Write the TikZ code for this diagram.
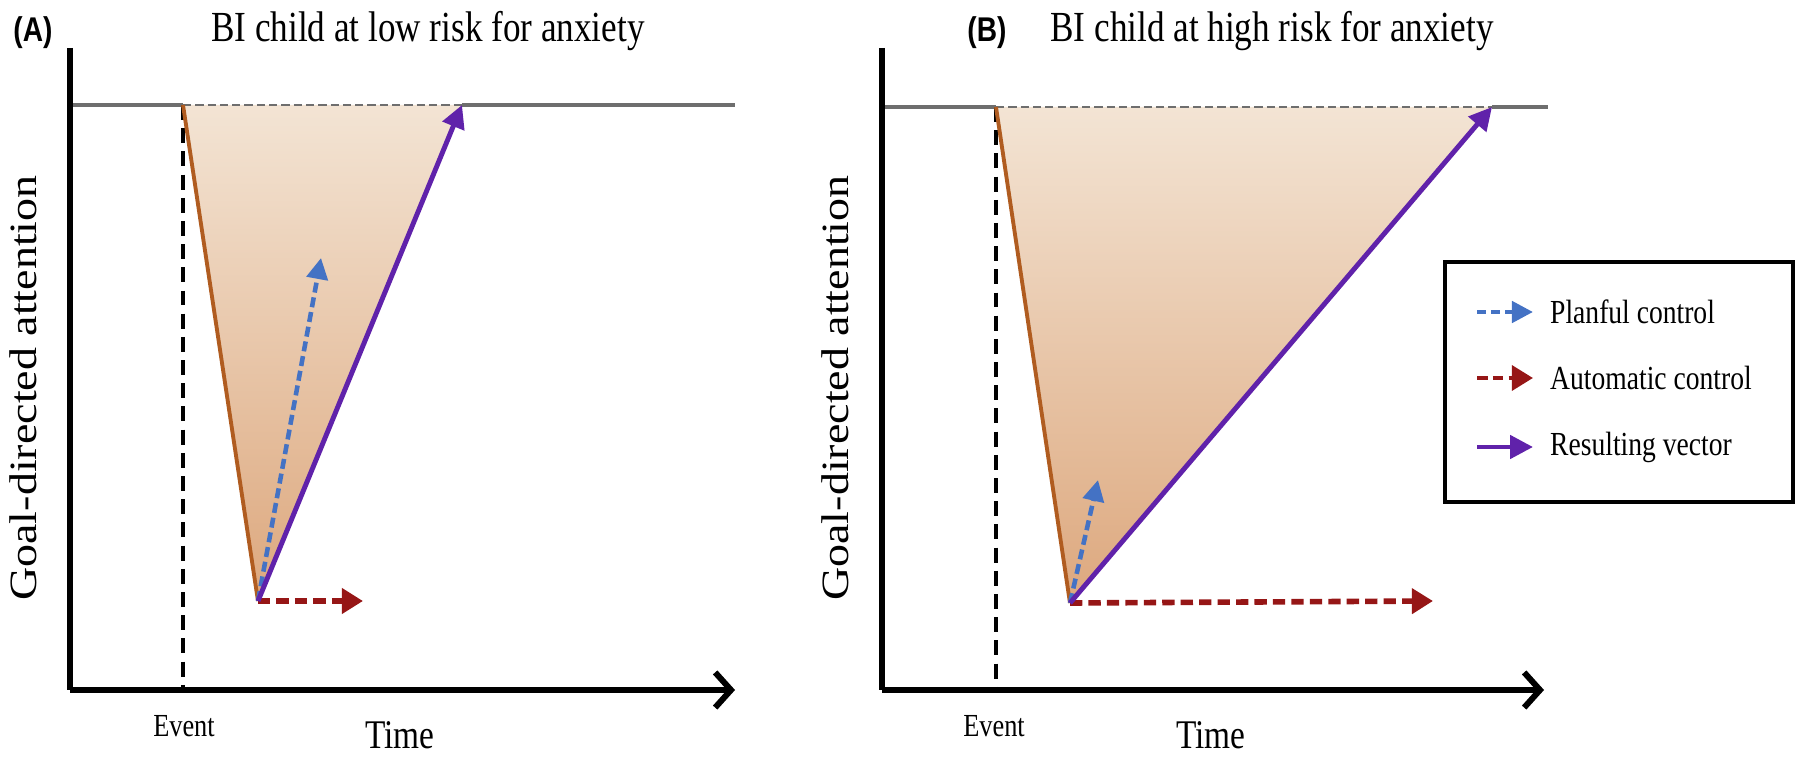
\documentclass[tikz,border=0pt]{standalone}
\usepackage{fontspec}
\setmainfont{Liberation Serif}
\newfontfamily\labfont{Liberation Sans}
\usetikzlibrary{arrows.meta}
\definecolor{axgray}{RGB}{110,110,110}
\definecolor{brownln}{RGB}{176,92,32}
\definecolor{purpln}{RGB}{96,34,170}
\definecolor{blueln}{RGB}{68,114,196}
\definecolor{redln}{RGB}{150,22,22}
\definecolor{shtop}{RGB}{243,228,212}
\definecolor{shbot}{RGB}{221,168,126}
\newcommand\vstr[1]{\scalebox{1}[1.22]{#1}}
\newcommand\hstr[1]{\scalebox{1.19}[1]{#1}}
\tikzset{
  axisln/.style={line width=3.4pt, black},
  xaxisln/.style={line width=3.4pt, black, -{Straight Barb[length=9pt,width=20pt,line width=3.4pt]}},
  goalln/.style={line width=2.4pt, axgray},
  goaldash/.style={line width=1.5pt, axgray, dash pattern=on 4.7pt off 2.3pt},
  eventln/.style={line width=2.2pt, black, dash pattern=on 8.5pt off 4.7pt},
  brownstyle/.style={line width=2.2pt, brownln},
  purpstyle/.style={line width=2.8pt, purpln, -{Triangle[length=13pt,width=13pt]}},
  bluestyle/.style={line width=2.6pt, blueln, dash pattern=on 5.7pt off 2.8pt, -{Triangle[length=12pt,width=12pt]}},
  redstyle/.style={line width=3.2pt, redln, dash pattern=on 7pt off 3.5pt, -{Triangle[length=12pt,width=14pt]}},
  titletext/.style={font=\fontsize{20}{24}\selectfont, anchor=base},
  paneltag/.style={font=\labfont\bfseries\fontsize{16}{19}\selectfont},
  ytext/.style={font=\fontsize{22}{26}\selectfont, rotate=90},
  eventtext/.style={font=\fontsize{15}{18}\selectfont},
  timetext/.style={font=\fontsize{19}{22}\selectfont},
  legtext/.style={font=\fontsize{15.7}{19}\selectfont, anchor=west},
  legbox/.style={line width=2.2pt, black},
}
\begin{document}
\begin{tikzpicture}[x=0.02cm, y=-0.02cm]
\useasboundingbox (0,0) rectangle (1800,757);

% ---------------- Panel A ----------------
\node[paneltag] (tagA) at (33,33) {\vstr{(A)}};
\node[titletext] (titleA) at (428,42) {\vstr{BI child at low risk for anxiety}};
\coordinate (Aytop) at (70,48);
\coordinate (Aorig) at (70,690);
\coordinate (Axend) at (735,690);
\coordinate (Agl) at (70,105);
\coordinate (Agr) at (735,105);
\coordinate (Aev) at (183,105);
\coordinate (Aevb) at (183,690);
\coordinate (Atr) at (462,105);
\coordinate (Aap) at (258,601);
\coordinate (Ablue) at (321,258);
\coordinate (Ared) at (363,601);

\shade[top color=shtop, bottom color=shbot] (Aev) -- (Atr) -- (Aap) -- cycle;
\draw[goalln] (Agl) -- (Aev);
\draw[goalln] (Atr) -- (Agr);
\draw[goaldash] (Aev) -- (Atr);
\draw[eventln] (Aev) -- (Aevb);
\draw[axisln] (Aytop) -- (Aorig);
\draw[xaxisln] (Aorig) -- (Axend);
\draw[brownstyle] (Aev) -- (Aap);
\draw[bluestyle] (Aap) -- (Ablue);
\draw[redstyle] (Aap) -- (Ared);
\draw[purpstyle] (Aap) -- (Atr);
\node[ytext] (yA) at (23,388) {\hstr{Goal-directed attention}};
\node[eventtext] (evA) at (184,726) {\vstr{Event}};
\node[timetext] (timeA) at (400,735) {\vstr{Time}};

% ---------------- Panel B ----------------
\node[paneltag] (tagB) at (987,33) {\vstr{(B)}};
\node[titletext] (titleB) at (1272,42) {\vstr{BI child at high risk for anxiety}};
\coordinate (Bytop) at (882,48);
\coordinate (Borig) at (882,690);
\coordinate (Bxend) at (1544,690);
\coordinate (Bgl) at (882,107);
\coordinate (Bgr) at (1548,107);
\coordinate (Bev) at (996,107);
\coordinate (Bevb) at (996,690);
\coordinate (Btr) at (1492,107);
\coordinate (Bap) at (1070,603);
\coordinate (Bblue) at (1098,480);
\coordinate (Bred) at (1433,601);

\shade[top color=shtop, bottom color=shbot] (Bev) -- (Btr) -- (Bap) -- cycle;
\draw[goalln] (Bgl) -- (Bev);
\draw[goalln] (Btr) -- (Bgr);
\draw[goaldash] (Bev) -- (Btr);
\draw[eventln] (Bev) -- (Bevb);
\draw[axisln] (Bytop) -- (Borig);
\draw[xaxisln] (Borig) -- (Bxend);
\draw[brownstyle] (Bev) -- (Bap);
\draw[bluestyle] (Bap) -- (Bblue);
\draw[redstyle] (Bap) -- (Bred);
\draw[purpstyle] (Bap) -- (Btr);
\node[ytext] (yB) at (835,388) {\hstr{Goal-directed attention}};
\node[eventtext] (evB) at (994,726) {\vstr{Event}};
\node[timetext] (timeB) at (1211,735) {\vstr{Time}};

% ---------------- Legend ----------------
\draw[legbox] (1445,262) rectangle (1793,502);
\coordinate (L1a) at (1477,312); \coordinate (L1b) at (1533,312);
\coordinate (L2a) at (1477,378); \coordinate (L2b) at (1533,378);
\coordinate (L3a) at (1477,447); \coordinate (L3b) at (1533,447);
\draw[bluestyle, dash pattern=on 5pt off 3pt] (L1a) -- (L1b);
\draw[redstyle, line width=2.6pt, dash pattern=on 6pt off 3pt] (L2a) -- (L2b);
\draw[purpstyle] (L3a) -- (L3b);
\node[legtext] (leg1) at (1544,312) {\vstr{Planful control}};
\node[legtext] (leg2) at (1544,378) {\vstr{Automatic control}};
\node[legtext] (leg3) at (1544,447) {\vstr{Resulting vector}};
\end{tikzpicture}
\end{document}
